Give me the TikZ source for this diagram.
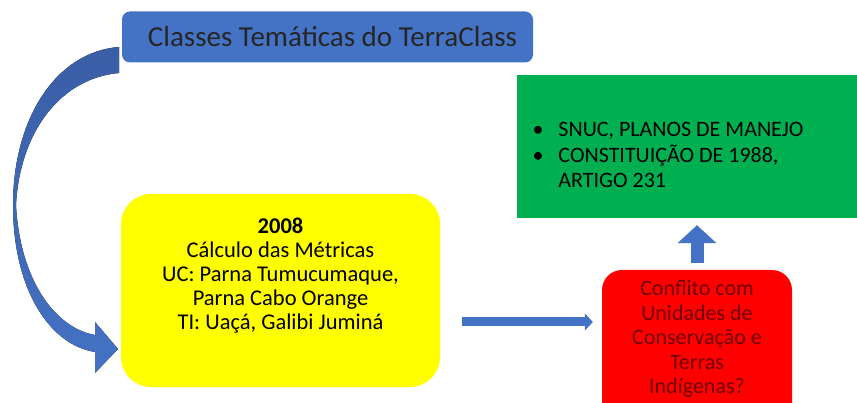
\documentclass[tikz,border=0pt]{standalone}
\usepackage{fontspec}
\setmainfont{Carlito}
\usetikzlibrary{arrows.meta,positioning}
\definecolor{tcblue}{RGB}{68,114,196}
\definecolor{tcdarkblue}{RGB}{58,94,166}
\definecolor{tcgreen}{RGB}{0,176,80}
\definecolor{tcred}{RGB}{255,0,0}
\definecolor{tcyellow}{RGB}{255,255,0}
\definecolor{tcmaroon}{RGB}{110,0,0}
\tikzset{
  caixa/.style={
    rectangle,
    inner sep=0pt,
    text centered},
  tema/.style={
    caixa,
    fill=tcblue,
    rounded corners=8pt,
    minimum width=411pt,
    minimum height=51pt,
    text=black!85,
    font=\fontsize{29}{32}\selectfont},
  metricas/.style={
    caixa,
    fill=tcyellow,
    rounded corners=30pt,
    minimum width=319pt,
    minimum height=193pt},
  legislacao/.style={
    caixa,
    fill=tcgreen,
    minimum width=360pt,
    minimum height=143pt},
  conflito/.style={
    caixa,
    fill=tcred,
    rounded corners=20pt,
    minimum width=190pt,
    minimum height=160pt},
  texto/.style={align=center, font=\fontsize{22.5}{24}\selectfont},
  seta/.style={draw=tcblue, line width=9pt, -{Triangle[length=8pt,width=17pt]}},
  setacima/.style={draw=tcblue, line width=13pt, -{Triangle[length=18pt,width=38pt]}},
}
\begin{document}
\begin{tikzpicture}[x=1pt,y=-1pt]
  \useasboundingbox (0,0) rectangle (857,403);
  \clip (0,0) rectangle (857,403);
  % caixas
  \node[tema]       (Tema)       at (327.5,37) {\hspace*{10pt}Classes Temáticas do TerraClass};
  \node[metricas]   (Metricas)   at (280.5,290.5) {};
  \node[legislacao] (Legislacao) at (697,146.5) {};
  \node[conflito]   (Conflito)   at (697,350) {};
  % textos
  \node[texto] (MetricasTxt) at (280.5,276)
    {\textbf{2008}\\Cálculo das Métricas\\UC: Parna Tumucumaque,\\Parna Cabo Orange\\TI: Uaçá, Galibi Juminá};
  \node[texto, text=tcmaroon, font=\fontsize{22}{24.5}\selectfont] (ConflitoTxt) at (697,339)
    {Conflito com\\Unidades de\\Conservação e\\Terras\\Indígenas?};
  \node[texto, align=left, anchor=west, font=\fontsize{22}{25}\selectfont] (LegislacaoTxt) at (529,157)
    {\begin{tabular}{@{}l@{\hspace{15pt}}l@{}}
      \textbullet & SNUC, PLANOS DE MANEJO\\
      \textbullet & CONSTITUIÇÃO DE 1988,\\
                  & ARTIGO 231
     \end{tabular}};
  % seta curva
  \fill[top color=tcdarkblue, bottom color=tcblue]
    (119,47) .. controls (55,52) and (13,120) .. (13,205)
    .. controls (13,290) and (50,345) .. (95,352)
    -- (95,373) -- (118,349) -- (95,322) -- (95,335)
    .. controls (55,328) and (20,280) .. (16,205)
    .. controls (20,130) and (62,78) .. (119,73) -- cycle;
  % setas
  \draw[seta] ([xshift=22pt,yshift=-31.5pt]Metricas.east)
    -- ([xshift=-9pt,yshift=-31.5pt]Metricas.east -| Conflito.west);
  \draw[setacima] ([yshift=7pt]Conflito.north)
    -- ([yshift=-7pt]Legislacao.south -| Conflito.north);
\end{tikzpicture}
\end{document}
